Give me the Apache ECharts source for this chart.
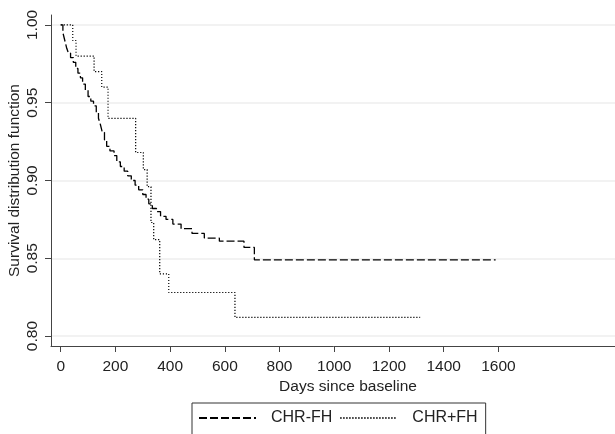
<!DOCTYPE html>
<html>
<head>
<meta charset="utf-8">
<script src="https://cdn.jsdelivr.net/npm/echarts@6/dist/echarts.min.js"></script>
<style>
  html, body { margin: 0; padding: 0; background: #fff; }
  #chart { width: 615px; height: 434px; }
</style>
</head>
<body>
<div id="chart"></div>
<script>
// Kaplan-Meier estimates: [days, survival]
const chrMinusFh = [
    [0, 1.000], [8, 0.995], [15, 0.990], [22, 0.985], [28, 0.982], [36, 0.979],
    [46, 0.976], [55, 0.972], [63, 0.969], [72, 0.966], [80, 0.962], [90, 0.958],
    [100, 0.954], [110, 0.951], [120, 0.948], [130, 0.944], [138, 0.940], [145, 0.936],
    [152, 0.931], [160, 0.926], [168, 0.922], [180, 0.919], [195, 0.916], [205, 0.912],
    [218, 0.909], [232, 0.906], [245, 0.903], [258, 0.900], [272, 0.897], [285, 0.894],
    [300, 0.891], [312, 0.888], [322, 0.885], [335, 0.882], [350, 0.880], [365, 0.877],
    [385, 0.875], [410, 0.872], [440, 0.869], [480, 0.866], [525, 0.863], [580, 0.861],
    [670, 0.857], [708, 0.849], [1590, 0.849]
];
const chrPlusFh = [
    [0, 1.000], [44, 0.990], [56, 0.980], [122, 0.970], [150, 0.960], [173, 0.940],
    [274, 0.918], [302, 0.907], [316, 0.896], [330, 0.873], [340, 0.862], [362, 0.840],
    [395, 0.828], [637, 0.812], [1314, 0.812]
];
const xTicks = [0, 200, 400, 600, 800, 1000, 1200, 1400, 1600];
const yTicks = [0.80, 0.85, 0.90, 0.95, 1.00];

const font = "'Liberation Sans', Arial, sans-serif";
const ink = "#222";

const chart = echarts.init(document.getElementById("chart"));
chart.setOption({
    animation: false,
    backgroundColor: "#fff",
    grid: { left: 51, right: -30, top: 15, bottom: 88, outerBoundsMode: "none" },
    xAxis: {
        type: "value",
        min: -35.5,
        max: 2136,
        name: "Days since baseline",
        nameLocation: "middle",
        nameGap: 33,
        nameMoveOverlap: false,
        nameTextStyle: { fontFamily: font, fontSize: 15.5, color: ink },
        axisLine: { show: true, onZero: false, lineStyle: { color: "#444", width: 1 } },
        axisTick: { show: true, length: 6, customValues: xTicks, lineStyle: { color: "#444" } },
        axisLabel: {
            customValues: xTicks,
            margin: 13,
            fontFamily: font,
            fontSize: 15.5,
            color: ink,
            formatter: function (v) { return String(v); }
        },
        splitLine: { show: false }
    },
    yAxis: {
        type: "value",
        min: 0.7936,
        max: 1.0064,
        name: "Survival distribution function",
        nameLocation: "middle",
        nameGap: 28,
        nameMoveOverlap: false,
        nameTextStyle: { fontFamily: font, fontSize: 15.5, color: ink },
        axisLine: { show: true, onZero: false, lineStyle: { color: "#444", width: 1 } },
        axisTick: { show: true, length: 6, customValues: yTicks, lineStyle: { color: "#444" } },
        axisLabel: {
            customValues: yTicks,
            rotate: 90,
            margin: 10,
            fontFamily: font,
            fontSize: 15.5,
            color: ink,
            formatter: function (v) { return v.toFixed(2); }
        },
        splitLine: { show: true, lineStyle: { color: "#eeeeee", width: 1.5 } }
    },
    legend: {
        left: 192,
        top: 403,
        padding: [7, 8, 20, 6],
        borderColor: "#333",
        borderWidth: 1,
        itemWidth: 57,
        itemHeight: 12,
        itemGap: 7,
        itemStyle: { color: "transparent", borderWidth: 0 },
        textStyle: { fontFamily: font, fontSize: 16, color: ink, padding: [0, 0, 0, 10] },
        data: ["CHR-FH", "CHR+FH"]
    },
    series: [
        {
            name: "CHR-FH",
            type: "line",
            step: "end",
            symbol: "none",
            data: chrMinusFh,
            itemStyle: { color: "#000" },
            lineStyle: { color: "#000", width: 1.3, type: [8, 3] }
        },
        {
            name: "CHR+FH",
            type: "line",
            step: "end",
            symbol: "none",
            data: chrPlusFh,
            itemStyle: { color: "#000" },
            lineStyle: { color: "#000", width: 1.2, type: [1.2, 1.8] }
        }
    ]
});
</script>
</body>
</html>
